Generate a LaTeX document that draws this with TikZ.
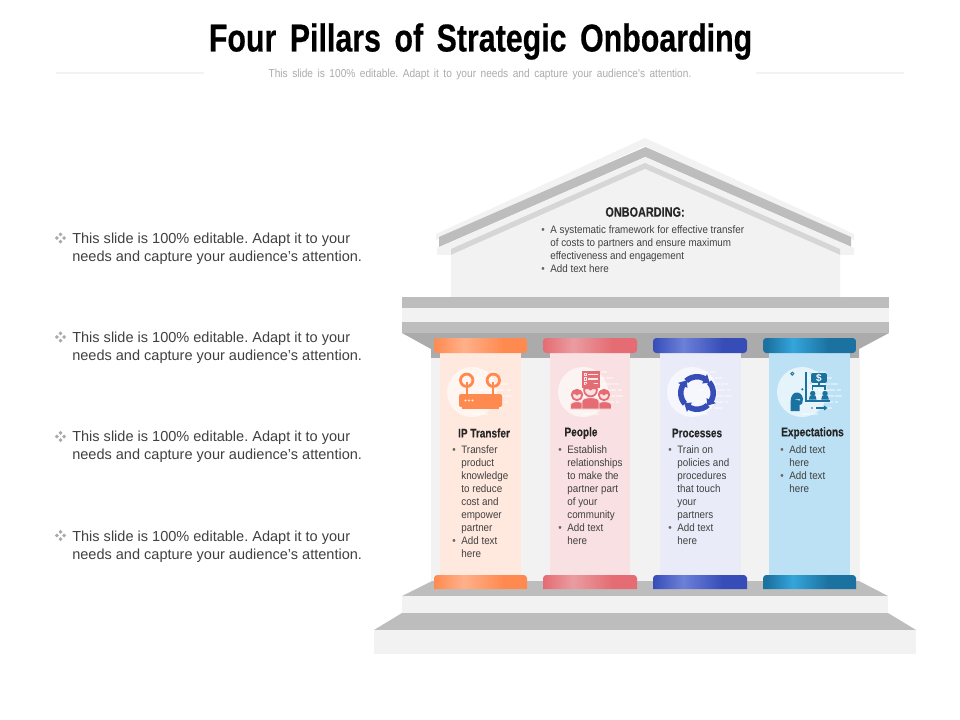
\documentclass[tikz,border=0pt]{standalone}
\usepackage{fontspec}
\setmainfont{Liberation Sans}
\newfontfamily\narrowt[FakeStretch=0.78,WordSpace=1.6,BoldFeatures={FakeBold=0.4}]{Liberation Sans}
\newfontfamily\narrowb[FakeStretch=0.8,BoldFeatures={FakeBold=0.2}]{Liberation Sans}
\newfontfamily\narrowc[FakeStretch=0.91]{Liberation Sans}
\newfontfamily\narrowsub[FakeStretch=0.88,WordSpace=1.6]{Liberation Sans}
\definecolor{wallc}{HTML}{F2F2F2}
\definecolor{grayc}{HTML}{BDBDBD}
\definecolor{grayd}{HTML}{ABABAB}
\definecolor{graye}{HTML}{D6D6D6}
\definecolor{txt}{HTML}{404040}
\definecolor{ora}{HTML}{FF8A50}\definecolor{oral}{HTML}{FFB08A}\definecolor{oras}{HTML}{FFE8DE}
\definecolor{red1}{HTML}{E46C72}\definecolor{redl}{HTML}{EA9CA0}\definecolor{reds}{HTML}{F9E0E2}
\definecolor{blu}{HTML}{364DB8}\definecolor{blul}{HTML}{6C80D8}\definecolor{blus}{HTML}{E9ECF8}
\definecolor{tea}{HTML}{1B72A0}\definecolor{teal1}{HTML}{35A5DC}\definecolor{teas}{HTML}{BCE0F4}
\pgfdeclarehorizontalshading{capora}{100bp}{color(0bp)=(ora);color(25bp)=(ora);color(41bp)=(oral);color(62bp)=(ora);color(100bp)=(ora)}
\pgfdeclarehorizontalshading{capred}{100bp}{color(0bp)=(red1);color(25bp)=(red1);color(41bp)=(redl);color(62bp)=(red1);color(100bp)=(red1)}
\pgfdeclarehorizontalshading{capblu}{100bp}{color(0bp)=(blu);color(25bp)=(blu);color(41bp)=(blul);color(62bp)=(blu);color(100bp)=(blu)}
\pgfdeclarehorizontalshading{captea}{100bp}{color(0bp)=(tea);color(27bp)=(tea);color(41bp)=(teal1);color(60bp)=(tea);color(100bp)=(tea)}
\newcommand{\blt}{\makebox[6.8pt][l]{\textcolor{txt!80}{\textbullet}}}
\newcommand{\ind}{\hspace*{6.8pt}}
\newcommand{\pillar}[6]{% x1 x2 shaft1 shaft2 shading shaftcolour
  \fill[#6] (#3,352) rectangle (#4,577);
  \shade[shading=#5,rounded corners=2.5pt] (#1,338) -- (#2,338) -- (#2,353) -- (#1,353) -- cycle;
  \shade[shading=#5] (#1,589) -- (#1,581) [rounded corners=2.5pt] -- (#1,575) -- (#2,575) -- (#2,581) [sharp corners] -- (#2,589) -- cycle;
}
\newcommand{\halo}[1]{%
  \fill[white,opacity=.62] (#1,392) circle (25);
  \foreach \yy/\aa/\bb in {372/8/18,378/4/24,384/10/30,390/6/33,396/14/34,402/4/30,408/12/24,414/0/10}{
    \draw[white,opacity=.42,line width=1.1pt,dash pattern=on 6pt off 1.2pt] (#1+\aa,\yy) -- (#1+\bb+6,\yy);
  }
}
\newcommand{\dmd}[2]{%
  \foreach \dx/\dy in {-3.6/0,3.6/0,0/-3.6,0/3.6}{
    \fill[grayc!90!black] (#1+\dx-2,#2+\dy) -- (#1+\dx,#2+\dy-2) -- (#1+\dx+2,#2+\dy) -- (#1+\dx,#2+\dy+2) -- cycle;
  }
}
\newcommand{\person}[7]{% hx hy hr bl br bt facecolour
  \fill[red1,draw=#7,line width=.7pt] (#4,409) -- (#4,#6+4) .. controls (#4,#6-.5) and (#5,#6-.5) .. (#5,#6+4) -- (#5,409) -- cycle;
  \fill[#7] (#1,#2) circle (#3);
  \draw[red1,line width=1.3pt] (#1,#2) circle (#3-.6);
  \fill[red1] (#1-#3,#2) .. controls (#1-#3,#2-#3*1.3) and (#1+#3,#2-#3*1.3) .. (#1+#3,#2) .. controls (#1+.3*#3,#2-.4*#3) and (#1,#2+.1*#3) .. (#1,#2+.1*#3) .. controls (#1,#2+.1*#3) and (#1-.3*#3,#2-.4*#3) .. cycle;
}
\tikzset{
  x=0.75pt,y=-0.75pt,
  sidetext/.style={anchor=north west,inner sep=0pt,align=left,text=txt,font=\fontsize{10.9}{13.3}\selectfont},
  smalltext/.style={anchor=north west,inner sep=0pt,align=left,text=txt,font=\narrowc\fontsize{8.1}{9.75}\selectfont},
  pilhead/.style={inner sep=0pt,text=black!85,font=\narrowb\bfseries\fontsize{9.4}{10}\selectfont},
}
\frenchspacing
\begin{document}
\begin{tikzpicture}
\useasboundingbox (0,0) rectangle (960,720);
% title
\node[inner sep=0pt,font=\narrowt\bfseries\fontsize{29.2}{32}\selectfont] (title) at (480.5,41.5) {Four Pillars of Strategic Onboarding};
\node[inner sep=0pt,text=grayc!90!black,font=\narrowsub\fontsize{8.65}{10}\selectfont] (subtitle) at (480,74.5) {This slide is 100\% editable. Adapt it to your needs and capture your audience's attention.};
\fill[wallc] (56,72) rectangle (204,74);
\fill[wallc] (756,72) rectangle (904,74);
% side text
\dmd{60.5}{238}\dmd{60.5}{337}\dmd{60.5}{436.5}\dmd{60.5}{535.5}
\node[sidetext] (sa) at (72,232.5) {This slide is 100\% editable. Adapt it to your\\needs and capture your audience's attention.};
\node[sidetext] (sb) at (72,331.5) {This slide is 100\% editable. Adapt it to your\\needs and capture your audience's attention.};
\node[sidetext] (sc) at (72,431) {This slide is 100\% editable. Adapt it to your\\needs and capture your audience's attention.};
\node[sidetext] (sd) at (72,531) {This slide is 100\% editable. Adapt it to your\\needs and capture your audience's attention.};
% roof
\fill[wallc] (645,138) -- (854,234) -- (854,240) -- (645,146) -- (436,240) -- (436,234) -- cycle;
\fill[grayc] (645.5,147) -- (851,237) -- (851,247) -- (645.5,157) -- (439,247) -- (439,237) -- cycle;
\fill[wallc] (437,248) -- (451,255) -- (451,297) -- (840,297) -- (840,255) -- (854,255) -- (854,248) -- (645,157) -- cycle;
\fill[wallc] (437,248) -- (437,255) -- (451,255) -- cycle;
\fill[wallc] (854,248) -- (854,255) -- (840,255) -- cycle;
\fill[graye] (645,163) -- (840,249) -- (840,255) -- (645,169) -- (451,255) -- (451,249) -- cycle;
\fill[wallc] (451,255) -- (645,169) -- (840,255) -- (840,297) -- (451,297) -- cycle;
% entablature
\fill[grayc] (402,297) rectangle (889,308);
\fill[wallc] (402,308) rectangle (889,322);
\fill[grayc] (402,322) rectangle (889,333);
\fill[grayd] (402,333) -- (889,333) -- (859,349) -- (859,358) -- (431,358) -- (431,349) -- cycle;
% back wall
\fill[wallc] (431,358) rectangle (860,581);
% stairs
\fill[grayc] (432,581) -- (859,581) -- (888,596) -- (402,596) -- cycle;
\fill[wallc] (402,596) rectangle (888,613);
\fill[grayc] (402,613) -- (888,613) -- (916,630) -- (374,630) -- cycle;
\fill[wallc] (374,630) rectangle (916,654);
% pillars
\pillar{434}{527}{440}{521}{capora}{oras}
\pillar{543}{637}{550}{630}{capred}{reds}
\pillar{653}{747}{660}{741}{capblu}{blus}
\pillar{763}{856}{769}{850}{captea}{teas}
% icon backgrounds
\halo{472}\halo{583}\halo{692}\halo{802}
% router
\fill[ora,rounded corners=1.5pt] (459,394) rectangle (502,407);
\fill[ora] (462,406) rectangle (499,409);
\draw[ora,line width=2.1pt] (466.7,380.3) circle (6.2);
\draw[ora,line width=2.1pt] (493.3,380.3) circle (6.2);
\fill[ora] (465.7,382) rectangle (467.7,394);
\fill[ora] (492.3,382) rectangle (494.3,394);
\foreach \dx in {465.5,469,472.5}{\fill[white!85!ora] (\dx,400.5) circle (1.1);}
% people
\fill[red1] (582,371) rectangle (600,388);
\foreach \yy in {374.5,379,383.5}{\draw[white!85!red1,line width=.8pt] (588,\yy) -- (598,\yy); \draw[white!85!red1,line width=.6pt] (584,\yy-1.2) rectangle (586,\yy+1.2);}
\person{577}{395}{5.8}{570.5}{583.5}{401}{reds}
\person{604}{395}{5.8}{597.5}{611.5}{401}{reds}
\person{590.5}{390}{7}{582}{599}{397}{reds}
% processes
\begin{scope}[shift={(697,393)},x=0.75pt,y=0.75pt]
\foreach \rr in {0,90,180,270}{
  \fill[blu,rotate=\rr] (132:19) arc[start angle=132,end angle=62,radius=19] -- (62:21.5) -- (39:16.3) -- (62:10.8) -- (62:13.5) arc[start angle=62,end angle=132,radius=13.5] -- cycle;
}
\end{scope}
% expectations
\draw[tea,line width=1.1pt] (806,372) -- (806,401) -- (830,401);
\fill[tea] (811,373) -- (827,373) -- (827,383) -- (811,383) -- cycle;
\foreach \cx/\cy in {811/373,827/373,811/383,827/383}{\fill[teas] (\cx,\cy) circle (1.3);}
\node[inner sep=0pt,text=white,font=\bfseries\fontsize{7.5}{8}\selectfont] (dollar) at (819,378) {\$};
\draw[tea,line width=.8pt] (819,383) -- (819,386) (812.7,390) -- (812.7,386) -- (825,386) -- (825,390);
\foreach \hx in {812.7,825}{
  \fill[tea] (\hx,393.5) circle (2.7);
  \fill[tea] (\hx-3.8,399.7) -- (\hx-2.8,395.5) -- (\hx+2.8,395.5) -- (\hx+3.8,399.7) -- cycle;
}
\fill[tea] (790.7,411) -- (790.7,401) .. controls (790.7,390) and (802,390) .. (803,399) -- (802,404) -- (799.5,405) -- (799.5,411) -- cycle;
\fill[white!70!tea] (795,399.5) -- (800,399) -- (800,400.6) -- cycle;
\fill[tea] (792.3,371.5) -- (794.5,373.7) -- (792.3,375.9) -- (790.1,373.7) -- cycle;
\fill[white!70!tea] (792.3,373.7) circle (.7);
\fill[tea] (802.3,389.3) circle (1.2);
\fill[tea] (812,408) circle (.8);
\draw[tea,line width=.9pt] (816,408) -- (825,408);
\fill[tea] (824,405.5) -- (827.5,408) -- (824,410.5) -- cycle;
% house text
\node[pilhead,font=\narrowb\bfseries\fontsize{10.2}{11}\selectfont] (onb) at (645,212) {ONBOARDING:};
\node[smalltext] (onbt) at (541,225.5) {\blt A systematic framework for effective transfer\\\ind of costs to partners and ensure maximum\\\ind effectiveness and engagement\\\blt Add text here};
% pillar text
\node[pilhead] (p1) at (484,433) {IP Transfer};
\node[pilhead] (p2) at (581,433) {People};
\node[pilhead] (p3) at (697,433) {Processes};
\node[pilhead] (p4) at (812.5,433) {Expectations};
\node[smalltext] (t1) at (452,445) {\blt Transfer\\\ind product\\\ind knowledge\\\ind to reduce\\\ind cost and\\\ind empower\\\ind partner\\\blt Add text\\\ind here};
\node[smalltext] (t2) at (558,445) {\blt Establish\\\ind relationships\\\ind to make the\\\ind partner part\\\ind of your\\\ind community\\\blt Add text\\\ind here};
\node[smalltext] (t3) at (668,445) {\blt Train on\\\ind policies and\\\ind procedures\\\ind that touch\\\ind your\\\ind partners\\\blt Add text\\\ind here};
\node[smalltext] (t4) at (780,445) {\blt Add text\\\ind here\\\blt Add text\\\ind here};
\end{tikzpicture}
\end{document}
